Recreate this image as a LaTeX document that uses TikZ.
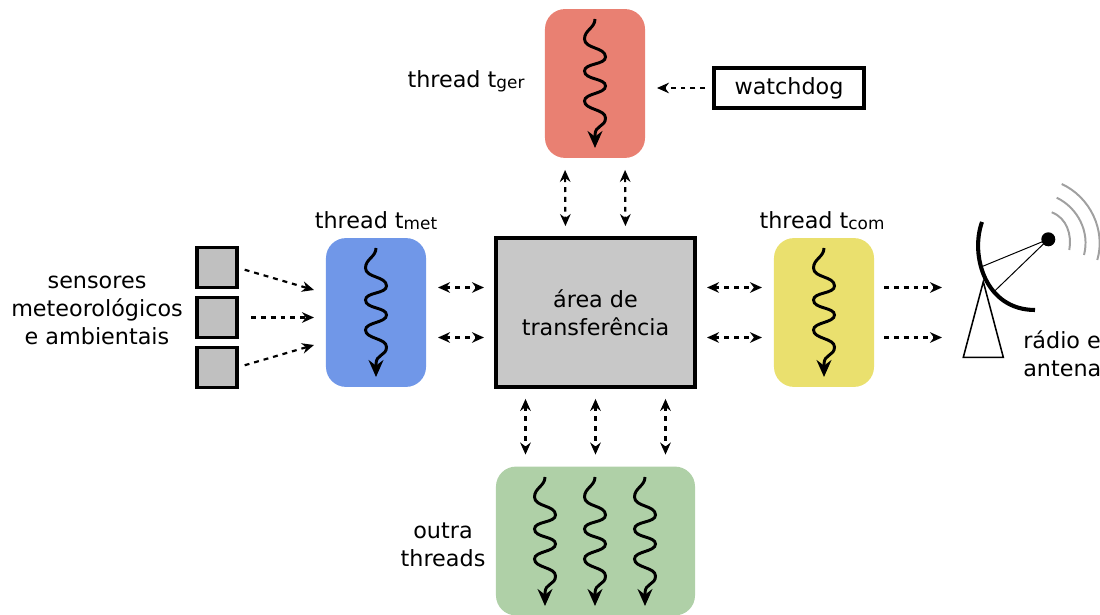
\documentclass[tikz,border=0pt]{standalone}
\usepackage{fontspec}
\setmainfont{DejaVu Sans}
\usepackage{xcolor}
\usetikzlibrary{arrows.meta, calc}

\definecolor{gercolor}{HTML}{E98072}
\definecolor{metcolor}{HTML}{7097E8}
\definecolor{comcolor}{HTML}{EAE06E}
\definecolor{outcolor}{HTML}{AFD0A7}
\definecolor{areacolor}{HTML}{C8C8C8}
\definecolor{sensorcolor}{HTML}{C0C0C0}
\definecolor{signalcolor}{HTML}{A0A0A0}

\newcommand{\threadname}[1]{thread t{\fontsize{12}{12}\selectfont\raisebox{-0.5pt}{#1}}}

\begin{document}
\begin{tikzpicture}[
  x=0.025cm, y=-0.025cm,
  every node/.style={font=\fontsize{15.85}{19.9}\selectfont, align=center},
  thread/.style={
    minimum width=2.5cm,
    minimum height=3.72cm,
    inner sep=0pt,
    outer sep=0pt,
    rounded corners=0.5cm
  },
  sensor/.style={
    draw,
    fill=sensorcolor,
    line width=2.8pt,
    minimum width=1cm,
    minimum height=1cm,
    inner sep=0pt,
    outer sep=0pt
  },
  link/.style={
    line width=1.55pt,
    dash pattern=on 3.5pt off 3.5pt,
    shorten >=0.3cm,
    shorten <=0.3cm
  },
  oneway/.style={link, -{Stealth[length=8.5pt,width=7.5pt]}},
  duplex/.style={link, {Stealth[length=8.5pt,width=7.5pt]}-{Stealth[length=8.5pt,width=7.5pt]}},
  wave/.pic={
    \draw[line width=2.1pt, -{Stealth[length=12pt,width=10.5pt]}] (0,0)
      .. controls (0,9) and (-10.5,11) .. (-10.5,20)
      .. controls (-10.5,30) and (10.5,28) .. (10.5,38)
      .. controls (10.5,46) and (-10.5,44) .. (-10.5,52)
      .. controls (-10.5,61) and (10.5,59) .. (10.5,67)
      .. controls (10.5,75) and (-10.5,74) .. (-10.5,82)
      .. controls (-10.5,91) and (10.5,90) .. (10.5,99)
      .. controls (10.5,108) and (0,106) .. (0,116) -- (0,129);
  }
]
\useasboundingbox (0,0) rectangle (1100,615);

% Threads
\node[thread, fill=gercolor] (tger) at (595,83.5) {};
\node[thread, fill=metcolor] (tmet) at (376,312.5) {};
\node[thread, fill=comcolor] (tcom) at (824,312.5) {};
\node[thread, fill=outcolor, minimum width=4.975cm] (tout) at (595.5,541) {};

% Transfer area and watchdog
\node[draw, fill=areacolor, line width=2.8pt, minimum width=4.975cm, minimum height=3.72cm, inner sep=0pt, outer sep=0pt] (area) at (595.5,312.5) {área de\\transferência};
\node[draw, line width=2.8pt, minimum width=3.75cm, minimum height=1cm, inner sep=0pt, outer sep=0pt] (watchdog) at (789,88) {watchdog};

% Sensors
\node[sensor] (s1) at (217,267.5) {};
\node[sensor] (s2) at (217,317.5) {};
\node[sensor] (s3) at (217,367.5) {};

% Labels
\node (lger) at (466,81) {\threadname{ger}};
\node (lmet) at (376,221) {\threadname{met}};
\node (lcom) at (822,221) {\threadname{com}};
\node (lsens) at (97,310) {sensores\\meteorológicos\\e ambientais};
\node (lout) at (443,545) {outra\\threads};
\node[anchor=west, align=left, inner sep=0pt] (lradio) at (1023,354) {rádio e\\antena};

% Thread waves
\pic at (595,19) {wave};
\pic at (376,248) {wave};
\pic at (824,248) {wave};
\pic at (545,477) {wave};
\pic at (595,477) {wave};
\pic at (645,477) {wave};

% Free ends
\coordinate (in1) at (314,290);
\coordinate (in2) at (314,317.5);
\coordinate (in3) at (314,345);
\coordinate (out1) at (942,287.5);
\coordinate (out2) at (942,337.5);

% Connections
\draw[oneway, shorten <=0.2cm, shorten >=0pt] (s1.east) -- (in1);
\draw[oneway, shorten <=0.35cm, shorten >=0pt] (s2.east) -- (in2);
\draw[oneway, shorten <=0.2cm, shorten >=0pt] (s3.east) -- (in3);
\draw[oneway, shorten <=0.22cm] (watchdog.west) -- (tger.east |- watchdog.west);
\draw[duplex] ($(tger.south)+(-30,0)$) -- ($(area.north)+(-30,0)$);
\draw[duplex] ($(tger.south)+(30,0)$) -- ($(area.north)+(30,0)$);
\draw[duplex] ($(tmet.east)+(0,-25)$) -- ($(area.west)+(0,-25)$);
\draw[duplex] ($(tmet.east)+(0,25)$) -- ($(area.west)+(0,25)$);
\draw[duplex] ($(area.east)+(0,-25)$) -- ($(tcom.west)+(0,-25)$);
\draw[duplex] ($(area.east)+(0,25)$) -- ($(tcom.west)+(0,25)$);
\draw[duplex] ($(area.south)+(-70,0)$) -- ($(tout.north)+(-70,0)$);
\draw[duplex] (area.south) -- (tout.north);
\draw[duplex] ($(area.south)+(70,0)$) -- ($(tout.north)+(70,0)$);
\draw[oneway, shorten <=0.25cm, shorten >=0pt] ($(tcom.east)+(0,-25)$) -- (out1);
\draw[oneway, shorten <=0.25cm, shorten >=0pt] ($(tcom.east)+(0,25)$) -- (out2);

% Antenna
\draw[line width=1.1pt] (983.3,281.7) -- (963.3,357.3) -- (1003.3,357.3) -- cycle;
\draw[line width=0.7pt] (981.7,266.7) -- (1048.3,239.3) -- (995,290.7);
\draw[line width=2.9pt] (982,222) .. controls (970,255) and (985,310) .. (1035,310);
\fill (1048.3,239.3) circle (7);
\draw[signalcolor, line width=1.4pt] (1051.7,212.3) .. controls (1067,218) and (1072,235) .. (1069.3,250);
\draw[signalcolor, line width=1.4pt] (1056.7,197.7) .. controls (1078,208) and (1090,232) .. (1084,255);
\draw[signalcolor, line width=1.4pt] (1061.7,184) .. controls (1090,197) and (1106,230) .. (1097.3,260);
\end{tikzpicture}
\end{document}
